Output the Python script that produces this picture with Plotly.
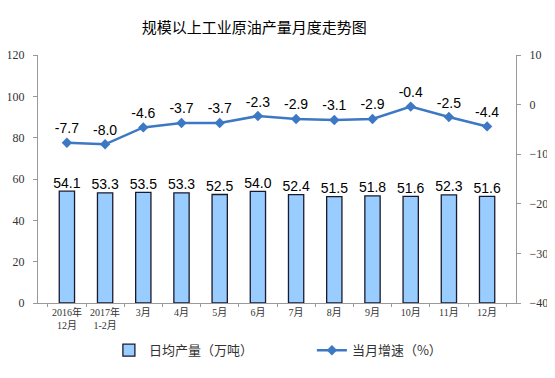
import plotly.graph_objects as go

categories = ["2016年<br>12月", "2017年<br>1-2月", "3月", "4月", "5月", "6月", "7月", "8月", "9月", "10月", "11月", "12月"]
daily_output = [54.1, 53.3, 53.5, 53.3, 52.5, 54.0, 52.4, 51.5, 51.8, 51.6, 52.3, 51.6]
growth = [-7.7, -8.0, -4.6, -3.7, -3.7, -2.3, -2.9, -3.1, -2.9, -0.4, -2.5, -4.4]
left_ticks = [0, 20, 40, 60, 80, 100, 120]
right_ticks = [-40, -30, -20, -10, 0, 10]

serif = "Times New Roman, Liberation Serif, Noto Sans CJK SC, serif"
sans = "Arial, Liberation Sans, Noto Sans CJK SC, sans-serif"

fig = go.Figure()
fig.add_trace(go.Bar(
    x=categories, y=daily_output, name="日均产量（万吨）",
    marker=dict(color="#99CCFF", line=dict(color="#1a1a2e", width=1.3)),
    width=0.4,
))
# bar value labels
fig.add_trace(go.Scatter(
    x=categories, y=daily_output, mode="text", showlegend=False,
    text=[f"{v:.1f}" for v in daily_output], textposition="top center",
    textfont=dict(family=sans, size=14, color="#000000"), cliponaxis=False,
    hoverinfo="skip",
))
fig.add_trace(go.Scatter(
    x=categories, y=growth, name="当月增速（%）", yaxis="y2",
    mode="lines+markers+text",
    line=dict(color="#3C78C3", width=2.5),
    marker=dict(symbol="diamond", size=8, color="#3C78C3"),
    text=[f"{v:.1f}" for v in growth], textposition="top center",
    textfont=dict(family=sans, size=14, color="#000000"),
    cliponaxis=False,
))

fig.update_layout(
    width=547, height=370,
    margin=dict(l=30, r=39, t=47, b=75, autoexpand=False),
    paper_bgcolor="white", plot_bgcolor="white",
    title=dict(text="规模以上工业原油产量月度走势图", x=0.45, xanchor="center", y=0.946, yanchor="middle",
               font=dict(family="Noto Sans CJK SC, sans-serif", size=15, color="#000000")),
    xaxis=dict(showline=True, linecolor="#999999", linewidth=1, ticks="outside", ticklen=3,
               tickcolor="#999999", tickson="boundaries", tickangle=0, automargin=False,
               tickfont=dict(family="Liberation Serif, Noto Sans CJK SC, serif", size=10, color="#333333")),
    yaxis=dict(range=[0, 120], tickvals=left_ticks, showline=True, linecolor="#999999", linewidth=1,
               ticks="outside", ticklen=4, tickcolor="#999999", showgrid=False, zeroline=False,
               automargin=False,
               tickfont=dict(family=serif, size=12, color="#333333"), ticklabelstandoff=6),
    yaxis2=dict(range=[-40, 10], tickvals=right_ticks, overlaying="y", side="right",
                showline=True, linecolor="#999999", linewidth=1, ticks="outside", ticklen=4,
                tickcolor="#999999", showgrid=False, zeroline=False, automargin=False,
                tickfont=dict(family=serif, size=12, color="#333333"), ticklabelstandoff=6),
    legend=dict(orientation="h", x=0.573, xanchor="center", y=-0.13, yanchor="top",
                font=dict(family="Noto Sans CJK SC, sans-serif", size=13, color="#333333"),
                entrywidth=158, entrywidthmode="pixels"),
    showlegend=True, bargap=0.6,
)

fig.write_html("out.html")
